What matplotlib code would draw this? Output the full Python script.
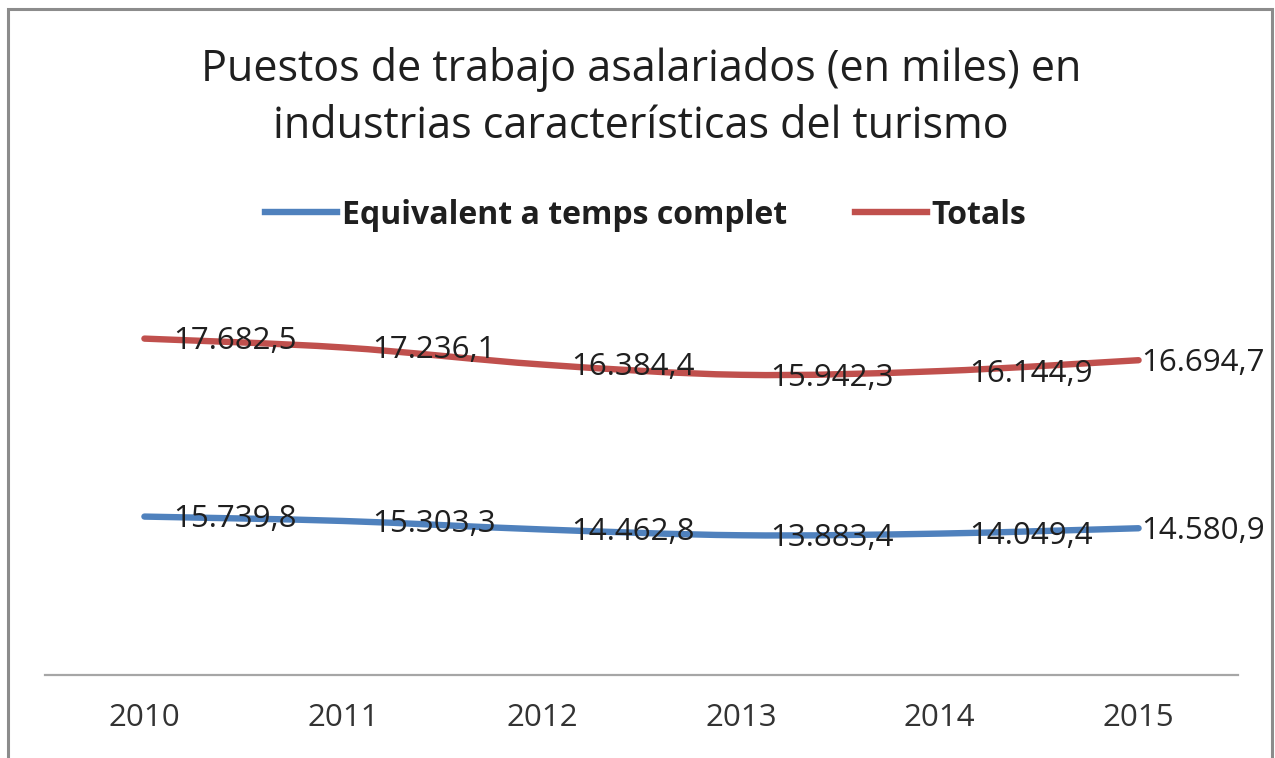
import matplotlib.pyplot as plt
from matplotlib.path import Path
from matplotlib.patches import PathPatch, Rectangle
from matplotlib.lines import Line2D

plt.rcParams['font.family'] = ['Open Sans', 'DejaVu Sans']

years = ["2010", "2011", "2012", "2013", "2014", "2015"]
equivalent = [15739.8, 15303.3, 14462.8, 13883.4, 14049.4, 14580.9]
totals = [17682.5, 17236.1, 16384.4, 15942.3, 16144.9, 16694.7]

blue = "#4f81bd"
red = "#c0504d"
text_col = "#1f1f1f"


def smooth_path(xs, ys):
    # excel-like smoothing: bezier segments with catmull-rom control points
    n = len(xs)
    verts = [(xs[0], ys[0])]
    codes = [Path.MOVETO]
    for i in range(n - 1):
        a = max(i - 1, 0)
        b = min(i + 2, n - 1)
        c1 = (xs[i] + (xs[i + 1] - xs[a]) / 6, ys[i] + (ys[i + 1] - ys[a]) / 6)
        c2 = (xs[i + 1] - (xs[b] - xs[i]) / 6, ys[i + 1] - (ys[b] - ys[i]) / 6)
        verts += [c1, c2, (xs[i + 1], ys[i + 1])]
        codes += [Path.CURVE4] * 3
    return Path(verts, codes)


def fmt(v):
    s = f"{v:,.1f}"
    return s.replace(",", "X").replace(".", ",").replace("X", ".")


fig = plt.figure(figsize=(12.75, 7.58), dpi=100)
ax = fig.add_axes([45 / 1275, 83 / 758, 1193 / 1275, 402.6 / 758])

x = list(range(len(years)))
stacked = [e + t for e, t in zip(equivalent, totals)]

ax.add_patch(PathPatch(smooth_path(x, equivalent), facecolor="none",
                       edgecolor=blue, lw=4.6, capstyle="round"))
ax.add_patch(PathPatch(smooth_path(x, stacked), facecolor="none",
                       edgecolor=red, lw=4.6, capstyle="round"))

# data labels to the right of each point, last one pushed inside
for i in x:
    dx = 21 if i < len(x) - 1 else 2
    ax.annotate(fmt(equivalent[i]), (i, equivalent[i]), xytext=(dx, -2),
                textcoords="offset points", ha="left", va="center",
                fontsize=22.5, color=text_col)
    ax.annotate(fmt(totals[i]), (i, stacked[i]), xytext=(dx, -2),
                textcoords="offset points", ha="left", va="center",
                fontsize=22.5, color=text_col)

ax.set_xlim(-0.5, len(years) - 0.5)
ax.set_ylim(0, 40000)
ax.set_xticks(x)
ax.set_xticklabels(years, fontsize=22.5, color="#333333")
ax.tick_params(axis="x", length=0, pad=20)
ax.set_yticks([])
for s in ["top", "left", "right"]:
    ax.spines[s].set_visible(False)
ax.spines["bottom"].set_color("#a6a6a6")
ax.spines["bottom"].set_linewidth(1.6)

fig.text(641 / 1275, 1 - 70 / 758, "Puestos de trabajo asalariados (en miles) en",
         ha="center", va="center", fontsize=31, color=text_col)
fig.text(641 / 1275, 1 - 127 / 758, "industrias características del turismo",
         ha="center", va="center", fontsize=31, color=text_col)

handles = [Line2D([], [], color=blue, lw=4.6),
           Line2D([], [], color=red, lw=4.6)]
fig.legend(handles, ["Equivalent a temps complet", "Totals"],
           loc="center", bbox_to_anchor=(646 / 1275, 1 - 215 / 758), ncol=2,
           frameon=False, handlelength=2.25, handletextpad=0.16,
           columnspacing=2.1, prop={"size": 23, "weight": "bold"},
           labelcolor=text_col)

# chart border
fig.patches.append(Rectangle((8 / 1275, -0.05), 1264 / 1275, 1.05 - 9 / 758,
                             transform=fig.transFigure, fill=False,
                             edgecolor="#8c8c8c", lw=2.2))

fig.savefig("out.png", dpi=100)
